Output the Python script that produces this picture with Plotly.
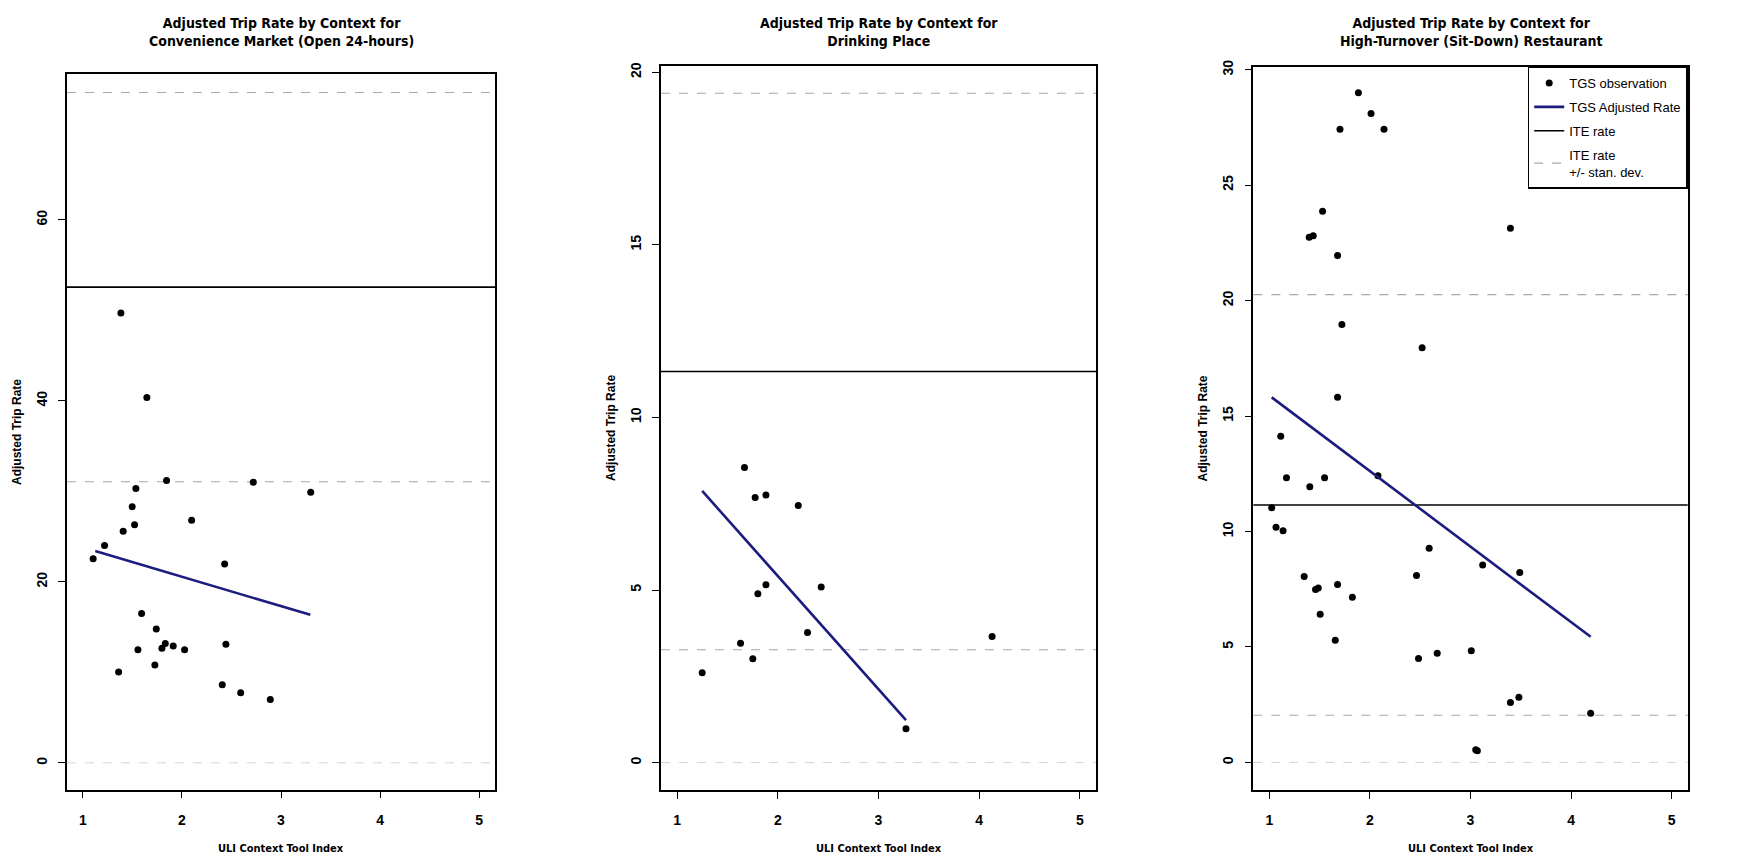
import plotly.graph_objects as go

# ---------------- data ----------------
titles = [
    "Adjusted Trip Rate by Context for<br>Convenience Market (Open 24-hours)",
    "Adjusted Trip Rate by Context for<br>Drinking Place",
    "Adjusted Trip Rate by Context for<br>High-Turnover (Sit-Down) Restaurant",
]

p1_x = [1.384, 1.646, 1.845, 2.72, 1.535, 3.30, 1.498, 2.098, 1.522, 1.407, 1.219, 1.104, 2.431,
        1.593, 1.741, 1.832, 2.444, 1.912, 1.798, 1.556, 2.027, 1.727, 1.361, 2.407, 2.593, 2.892]
p1_y = [49.7, 40.35, 31.2, 31.0, 30.3, 29.9, 28.3, 26.8, 26.3, 25.6, 24.0, 22.55, 21.97,
        16.5, 14.8, 13.2, 13.1, 12.9, 12.65, 12.5, 12.5, 10.8, 10.05, 8.63, 7.75, 7.0]
p1_fit_x = [1.125, 3.296]
p1_fit_y = [23.4, 16.35]

p2_x = [1.669, 1.775, 1.882, 2.203, 1.882, 1.802, 2.431, 2.295, 1.63, 1.752, 1.249, 3.273, 4.128]
p2_y = [8.55, 7.68, 7.75, 7.45, 5.15, 4.89, 5.09, 3.77, 3.46, 3.01, 2.60, 0.98, 3.65]
p2_fit_x = [1.249, 3.273]
p2_fit_y = [7.87, 1.23]

p3_x = [1.885, 2.011, 1.702, 2.140, 1.529, 1.436, 1.396, 3.397, 1.678, 1.721, 2.519, 1.678,
        1.113, 1.170, 1.549, 1.402, 2.080, 1.023, 1.066, 1.136, 2.589, 3.121, 3.490, 1.346,
        2.463, 1.459, 1.486, 1.678, 1.825, 1.505, 1.655, 2.483, 2.669, 3.008, 3.397, 3.481,
        4.195, 3.052, 3.068]
p3_y = [29.0, 28.1, 27.42, 27.42, 23.87, 22.81, 22.74, 23.13, 21.95, 18.97, 17.96, 15.81,
        14.13, 12.33, 12.33, 11.94, 12.41, 11.03, 10.18, 10.03, 9.28, 8.55, 8.22, 8.05,
        8.09, 7.49, 7.55, 7.71, 7.15, 6.42, 5.29, 4.50, 4.73, 4.84, 2.59, 2.82,
        2.13, 0.55, 0.50]
p3_fit_x = [1.023, 4.195]
p3_fit_y = [15.81, 5.44]

ite_rate = [52.55, 11.33, 11.15]
ite_sd = [21.5, 8.06, 9.11]

x_ticks = [1, 2, 3, 4, 5]
y_ticks = [[0, 20, 40, 60], [0, 5, 10, 15, 20], [0, 5, 10, 15, 20, 25, 30]]
x_range = [0.84, 5.16]
y_ranges = [[-2.95, 76.05], [-0.79, 20.18], [-1.19, 30.14]]

legend_names = ["TGS observation", "TGS Adjusted Rate", "ITE rate", "ITE rate<br>+/- stan. dev."]

# ---------------- layout geometry (pixels) ----------------
W, H = 1761, 858
panels_px = [  # left, right, top, bottom
    (67, 495, 68, 789),
    (661, 1096, 59.5, 789.3),
    (1253.3, 1687.7, 60, 789.3),
]

NARROW = "DejaVu Sans Condensed, Liberation Sans Narrow, Arial Narrow, sans-serif"
SANS = "Liberation Sans, Arial, sans-serif"
BLUE = "#1c1c7e"

pts_x = [p1_x, p2_x, p3_x]
pts_y = [p1_y, p2_y, p3_y]
fit_x = [p1_fit_x, p2_fit_x, p3_fit_x]
fit_y = [p1_fit_y, p2_fit_y, p3_fit_y]

fig = go.Figure()
annotations = []
shapes = []

for i in range(3):
    l, r, t, b = panels_px[i]
    xa = "x" if i == 0 else f"x{i+1}"
    ya = "y" if i == 0 else f"y{i+1}"
    xkey = "xaxis" if i == 0 else f"xaxis{i+1}"
    ykey = "yaxis" if i == 0 else f"yaxis{i+1}"

    fig.add_trace(go.Scatter(
        x=pts_x[i], y=pts_y[i], mode="markers", xaxis=xa, yaxis=ya,
        marker=dict(color="black", size=7), name=legend_names[0],
        legendgroup="g0", showlegend=(i == 2)))
    fig.add_trace(go.Scatter(
        x=fit_x[i], y=fit_y[i], mode="lines", xaxis=xa, yaxis=ya,
        line=dict(color=BLUE, width=2.6), name=legend_names[1],
        legendgroup="g1", showlegend=(i == 2)))

    # ITE lines
    for val, dash, col, w in [
        (ite_rate[i], "solid", "black", 1.6),
        (ite_rate[i] + ite_sd[i], "dash", "#a8a8a8", 1.1),
        (ite_rate[i] - ite_sd[i], "dash", "#a8a8a8", 1.1),
        (0, "dash", "#d4d4d4", 1.0),
    ]:
        shapes.append(dict(type="line", xref=f"{xa} domain", yref=ya, x0=0, x1=1,
                           y0=val, y1=val, line=dict(color=col, width=w, dash=dash),
                           layer="below"))

    fig.layout[xkey] = dict(
        domain=[l / W, r / W], range=x_range, tickvals=x_ticks,
        ticktext=[f"<b>{v}</b>" for v in x_ticks], anchor=ya,
        showline=True, linecolor="black", linewidth=1.5, mirror=True,
        ticks="outside", ticklen=7, tickcolor="black", tickwidth=1.2,
        showgrid=False, zeroline=False,
        tickfont=dict(family=SANS, size=14, color="black"),
        ticklabelstandoff=10,
    )
    fig.layout[ykey] = dict(
        domain=[(H - b) / H, (H - t) / H], range=y_ranges[i], tickvals=y_ticks[i],
        ticktext=[f"<b>{v}</b>" for v in y_ticks[i]],
        anchor=xa, showline=True, linecolor="black", linewidth=1.5, mirror=True,
        ticks="outside", ticklen=7, tickcolor="black", tickwidth=1.2,
        showgrid=False, zeroline=False, tickangle=-90,
        tickfont=dict(family=SANS, size=14, color="black"),
        ticklabelstandoff=6,
    )

    cx = (l + r) / 2
    annotations.append(dict(
        text="<b>" + titles[i] + "</b>", xref="paper", yref="paper",
        x=cx / W, y=1 - 6 / H, xanchor="center", yanchor="top", showarrow=False,
        font=dict(family=NARROW, size=14, color="black"), align="center"))
    annotations.append(dict(
        text="<b>ULI Context Tool Index</b>", xref="paper", yref="paper",
        x=cx / W, y=1 - 848 / H, xanchor="center", yanchor="middle", showarrow=False,
        borderpad=0, font=dict(family=NARROW, size=11, color="black")))
    annotations.append(dict(
        text="<b>Adjusted Trip Rate</b>", xref="paper", yref="paper",
        x=(l - 50) / W, y=1 - ((t + b) / 2) / H, xanchor="center", yanchor="middle",
        showarrow=False, textangle=-90,
        font=dict(family=SANS, size=12, color="black")))

# legend-only entries for ITE lines
fig.add_trace(go.Scatter(x=[None], y=[None], mode="lines", xaxis="x3", yaxis="y3",
                         line=dict(color="black", width=1.6), name=legend_names[2],
                         legendgroup="g2"))
fig.add_trace(go.Scatter(x=[None], y=[None], mode="lines", xaxis="x3", yaxis="y3",
                         line=dict(color="#a8a8a8", width=1.1, dash="dash"),
                         name=legend_names[3], legendgroup="g3"))

fig.update_layout(
    width=W, height=H, autosize=False,
    margin=dict(l=0, r=0, t=0, b=0),
    paper_bgcolor="white", plot_bgcolor="white",
    shapes=shapes, annotations=annotations,
    showlegend=True,
    legend=dict(
        x=1687.7 / W, xanchor="right", y=1 - 60 / H, yanchor="top",
        bordercolor="black", borderwidth=1.5, bgcolor="white",
        font=dict(family=SANS, size=13, color="black"),
        traceorder="grouped", tracegroupgap=4, itemwidth=30,
    ),
)

fig.write_html("out.html", config={"displayModeBar": False},
               post_script="document.body.style.margin='0';")
